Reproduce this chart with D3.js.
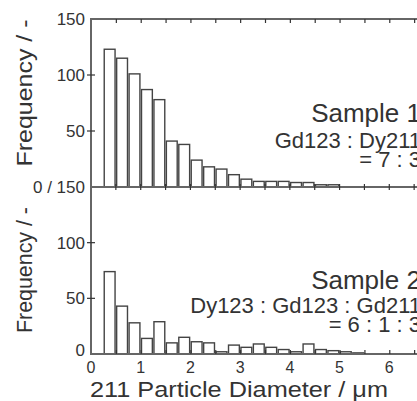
<!DOCTYPE html>
<html lang="en">
<head>
    <meta charset="UTF-8">
    <title>211 Particle Diameter</title>
    <script src="https://d3js.org/d3.v7.min.js"></script>
    <style>
        body { margin: 0; background: #fff; }
        svg text { font-family: "Liberation Sans", Arial, sans-serif; fill: #333; }
        .bar { fill: #fff; stroke: #444; stroke-width: 1.4px; }
        .frame { stroke: #666; stroke-width: 2px; fill: none; }
        .tick line, .tk { stroke: #333; stroke-width: 1.2px; }
        .domain { display: none; }
    </style>
</head>
<body>
<script>
    var width = 417, height = 401;

    // bin lower edges (um), bin width 0.25 um
    var binStarts = [0.25, 0.5, 0.75, 1.0, 1.25, 1.5, 1.75, 2.0, 2.25, 2.5, 2.75,
                     3.0, 3.25, 3.5, 3.75, 4.0, 4.25, 4.5, 4.75, 5.0, 5.25];
    var binWidth = 0.25;

    // Sample 1 : Gd123 : Dy211 = 7 : 3
    var sample1 = [123, 115, 101, 87, 78, 41, 38, 24, 18, 16, 11, 7, 5, 5, 5, 4, 4, 2, 2];
    // Sample 2 : Dy123 : Gd123 : Gd211 = 6 : 1 : 3
    var sample2 = [74, 43, 28, 14, 29, 10, 15, 11, 10, 2, 8, 6, 9, 6, 4, 2, 9, 4, 3, 2, 1];

    var xTickLabels = [0, 1, 2, 3, 4, 5, 6];
    var xMinorTicks = [0.5, 1, 1.5, 2, 2.5, 3, 3.5, 4, 4.5, 5, 5.5, 6, 6.5];
    var yTicks = [50, 100];

    var svg = d3.select("body").append("svg")
        .attr("width", width)
        .attr("height", height);

    var x = d3.scaleLinear().domain([0, 7]).range([91, 439]);
    var yTop = d3.scaleLinear().domain([0, 150]).range([187, 19]);
    var yBot = d3.scaleLinear().domain([0, 150]).range([354, 187]);

    function drawBars(values, y) {
        svg.append("g").selectAll("rect")
            .data(values)
            .enter().append("rect")
            .attr("class", "bar")
            .attr("x", function(d, i) { return x(binStarts[i]) + 0.8; })
            .attr("width", function(d, i) { return x(binStarts[i] + binWidth) - x(binStarts[i]) - 1.6; })
            .attr("y", function(d) { return y(d); })
            .attr("height", function(d) { return y(0) - y(d); });
    }

    drawBars(sample1, yTop);
    drawBars(sample2, yBot);

    // frame lines
    svg.append("line").attr("class", "frame")
        .attr("x1", x(0)).attr("x2", width + 5).attr("y1", yTop(150)).attr("y2", yTop(150));
    svg.append("line").attr("class", "frame")
        .attr("x1", x(0)).attr("x2", width + 5).attr("y1", yTop(0)).attr("y2", yTop(0));
    svg.append("line").attr("class", "frame")
        .attr("x1", x(0)).attr("x2", width + 5).attr("y1", yBot(0)).attr("y2", yBot(0));
    svg.append("line").attr("class", "frame")
        .attr("x1", x(0)).attr("x2", x(0)).attr("y1", yTop(150) - 1).attr("y2", yBot(0) + 1);

    // x ticks: inward on top and bottom, crossing in the middle
    svg.append("g").attr("transform", "translate(0," + yTop(150) + ")")
        .call(d3.axisBottom(x).tickValues(xMinorTicks).tickSize(4).tickFormat(""));
    svg.append("g").attr("transform", "translate(0," + yBot(0) + ")")
        .call(d3.axisTop(x).tickValues(xMinorTicks).tickSize(4).tickFormat(""));
    svg.append("g").selectAll("line")
        .data(xMinorTicks)
        .enter().append("line")
        .attr("class", "tk")
        .attr("x1", function(d) { return x(d); })
        .attr("x2", function(d) { return x(d); })
        .attr("y1", yTop(0) - 3)
        .attr("y2", yTop(0) + 3);

    // y ticks
    [yTop, yBot].forEach(function(y) {
        svg.append("g").selectAll("line")
            .data(yTicks)
            .enter().append("line")
            .attr("class", "tk")
            .attr("x1", x(0) - 4)
            .attr("x2", x(0) + 4)
            .attr("y1", function(d) { return y(d); })
            .attr("y2", function(d) { return y(d); });
    });

    // y tick labels
    var yLabels = [
        {text: "150", y: yTop(150)},
        {text: "100", y: yTop(100)},
        {text: "50", y: yTop(50)},
        {text: "0 / 150", y: yTop(0)},
        {text: "100", y: yBot(100)},
        {text: "50", y: yBot(50)},
        {text: "0", y: yBot(0) - 4}
    ];
    svg.append("g").selectAll("text")
        .data(yLabels)
        .enter().append("text")
        .attr("x", 85)
        .attr("y", function(d) { return d.y; })
        .attr("dy", "0.36em")
        .attr("text-anchor", "end")
        .style("font-size", "17px")
        .text(function(d) { return d.text; });

    // x tick labels
    svg.append("g").selectAll("text")
        .data(xTickLabels)
        .enter().append("text")
        .attr("x", function(d) { return x(d); })
        .attr("y", 373)
        .attr("text-anchor", "middle")
        .style("font-size", "16px")
        .text(function(d) { return d; });

    // axis titles
    svg.append("text")
        .attr("transform", "translate(32,93) rotate(-90)")
        .attr("text-anchor", "middle")
        .attr("textLength", 147)
        .attr("lengthAdjust", "spacingAndGlyphs")
        .style("font-size", "22px")
        .text("Frequency / -");
    svg.append("text")
        .attr("transform", "translate(32,270) rotate(-90)")
        .attr("text-anchor", "middle")
        .attr("textLength", 126)
        .attr("lengthAdjust", "spacingAndGlyphs")
        .style("font-size", "22px")
        .text("Frequency / -");
    svg.append("text")
        .attr("x", 90)
        .attr("y", 397)
        .attr("textLength", 298)
        .attr("lengthAdjust", "spacingAndGlyphs")
        .style("font-size", "22px")
        .text("211 Particle Diameter / \u03bcm");

    // sample annotations
    var notes = [
        {text: "Sample 1", y: 122, size: 26},
        {text: "Gd123 : Dy211", y: 148, size: 22},
        {text: "= 7 : 3", y: 167, size: 22},
        {text: "Sample 2", y: 289, size: 26},
        {text: "Dy123 : Gd123 : Gd211", y: 313, size: 22},
        {text: "= 6 : 1 : 3", y: 332, size: 22}
    ];
    svg.append("g").selectAll("text")
        .data(notes)
        .enter().append("text")
        .attr("x", 421)
        .attr("y", function(d) { return d.y; })
        .attr("text-anchor", "end")
        .style("font-size", function(d) { return d.size + "px"; })
        .text(function(d) { return d.text; });
</script>
</body>
</html>
